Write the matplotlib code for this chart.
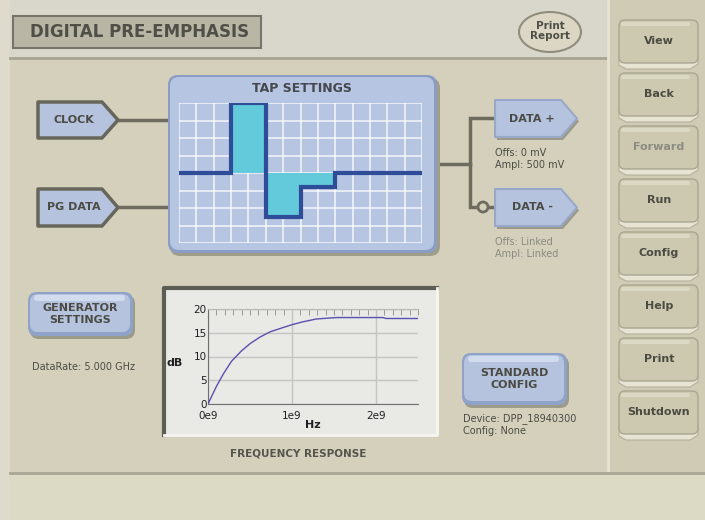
import matplotlib
matplotlib.use("Agg")
import matplotlib.pyplot as plt
from matplotlib.patches import FancyBboxPatch, Polygon, Rectangle, Ellipse, Circle
from matplotlib.ticker import MultipleLocator

# tap settings (step edges in grid columns, tap levels in grid rows)
tap_edges = [0, 3, 5, 7, 9, 14]
tap_levels = [0, 4, -2.5, -0.8, 0]

# frequency response
freq_hz = [0, 0.1e9, 0.185e9, 0.28e9, 0.4e9, 0.5e9, 0.62e9, 0.74e9, 0.86e9,
           1.0e9, 1.13e9, 1.29e9, 1.53e9, 2.0e9, 2.08e9, 2.12e9, 2.5e9]
gain_db = [0, 3.7, 6.4, 9.0, 11.2, 12.7, 14.1, 15.2, 15.9,
           16.7, 17.3, 17.9, 18.2, 18.2, 18.2, 18.0, 18.0]
freq_ticks = [0, 1e9, 2e9]
freq_labels = ["0e9", "1e9", "2e9"]
db_ticks = [0, 5, 10, 15, 20]

nav_buttons = ["View", "Back", "Forward", "Run", "Config", "Help", "Print", "Shutdown"]
nav_disabled = ["Forward"]

W, H = 705, 520
BG = "#d4d0bb"
BLUE = "#b5c3df"
DARK = "#4b4b44"

fig = plt.figure(figsize=(W / 100, H / 100), dpi=100)
bg = fig.add_axes([0, 0, 1, 1])
bg.set_xlim(0, W)
bg.set_ylim(H, 0)
bg.axis("off")


def px_axes(x0, y0, x1, y1):
    return fig.add_axes([x0 / W, 1 - y1 / H, (x1 - x0) / W, (y1 - y0) / H])


def rbox(x0, y0, x1, y1, r, fc, ec="none", lw=0, z=1):
    p = FancyBboxPatch((x0, y0), x1 - x0, y1 - y0,
                       boxstyle=f"round,pad=0,rounding_size={r}",
                       fc=fc, ec=ec, lw=lw, zorder=z)
    bg.add_patch(p)
    return p


def blue_button(x0, y0, x1, y1, label):
    rbox(x0 + 2, y0 + 3, x1 + 2, y1 + 3, 9, "#9c9a88", z=2)
    rbox(x0, y0, x1, y1, 9, "#8fa3c8", z=3)
    rbox(x0 + 2, y0 + 2, x1 - 3, y1 - 4, 8, BLUE, z=4)
    rbox(x0 + 6, y0 + 3, x1 - 8, y0 + 9, 3, "#d2dcef", z=5)
    bg.text((x0 + x1) / 2, (y0 + y1) / 2, label, ha="center", va="center",
            fontsize=8, fontweight="bold", color=DARK, linespacing=1.3, zorder=6)


def arrow_tag(x0, y0, x1, y1, label, outlined):
    tip = 16
    pts = [(x0, y0), (x1 - tip, y0), (x1, (y0 + y1) / 2), (x1 - tip, y1), (x0, y1)]
    if outlined:
        bg.add_patch(Polygon(pts, closed=True, fc=BLUE, ec="#67665a", lw=2.5,
                             joinstyle="round", zorder=4))
    else:
        sh = [(x + 2, y + 3) for x, y in pts]
        bg.add_patch(Polygon(sh, closed=True, fc="#9c9a88", ec="none", zorder=3,
                             joinstyle="round"))
        bg.add_patch(Polygon(pts, closed=True, fc=BLUE, ec="#97a8c9", lw=1.5,
                             joinstyle="round", zorder=4))
    bg.text(x0 + (x1 - tip - x0) / 2 + 4, (y0 + y1) / 2, label, ha="center", va="center",
            fontsize=8, fontweight="bold", color=DARK, zorder=5)


# background regions
bg.add_patch(Rectangle((0, 0), W, H, fc="#dedbcd", zorder=0))
bg.add_patch(Rectangle((10, 60), 598, 412, fc=BG, zorder=0))
bg.add_patch(Rectangle((10, 0), 598, 58, fc="#d9d6cb", zorder=0))
bg.plot([10, 608], [58, 58], color="#a7a493", lw=2, zorder=1)
bg.add_patch(Rectangle((608, 0), 97, 472, fc="#cfcbb5", zorder=0))
bg.plot([608, 608], [0, 472], color="#e6e3d4", lw=2, zorder=1)
bg.add_patch(Rectangle((10, 472), 695, 48, fc="#dcd9c5", zorder=0))
bg.plot([10, 705], [473, 473], color="#a9a693", lw=2, zorder=1)

# title box
bg.add_patch(Rectangle((13, 16), 248, 32, fc="#b9b6a5", ec="#77756a", lw=1.5, zorder=2))
bg.text(30, 32, "DIGITAL PRE-EMPHASIS", ha="left", va="center", fontsize=12,
        fontweight="bold", color="#4f4f47", zorder=3)

# print report button
bg.add_patch(Ellipse((550, 32), 62, 40, fc="#dbd7c4", ec="#908d7c", lw=1.5, zorder=2))
bg.text(550, 31, "Print\nReport", ha="center", va="center", fontsize=7.5,
        fontweight="bold", color="#4e4e46", linespacing=0.95, zorder=3)

# tap settings panel
rbox(170, 78, 440, 256, 10, "#a09d8a", z=2)
rbox(168, 75, 437, 253, 10, "#8c9dc4", z=3)
rbox(170, 77, 434, 250, 9, "#b6c5e1", z=3)
bg.text(302, 88, "TAP SETTINGS", ha="center", va="center", fontsize=9,
        fontweight="bold", color="#44474c", zorder=4)

# connector lines
LINE = "#6e6c5e"
bg.plot([118, 168], [120, 120], color=LINE, lw=2.5, zorder=1)
bg.plot([118, 168], [207, 207], color=LINE, lw=2.5, zorder=1)
bg.plot([437, 470], [164, 164], color=LINE, lw=2.5, zorder=1)
bg.plot([495, 470, 470, 478], [118, 118, 207, 207], color=LINE, lw=2.5, zorder=1,
        solid_joinstyle="miter")
bg.add_patch(Circle((483, 207), 5, fc=BG, ec=LINE, lw=2, zorder=2))
bg.plot([488, 496], [207, 207], color=LINE, lw=2.5, zorder=1)

arrow_tag(38, 102, 118, 138, "CLOCK", True)
arrow_tag(38, 189, 118, 226, "PG DATA", True)
arrow_tag(495, 100, 577, 137, "DATA +", False)
arrow_tag(495, 189, 577, 226, "DATA -", False)

bg.text(495, 153, "Offs: 0 mV", fontsize=7, color=DARK, va="center", zorder=5)
bg.text(495, 165, "Ampl: 500 mV", fontsize=7, color=DARK, va="center", zorder=5)
bg.text(495, 242, "Offs: Linked", fontsize=7, color="#8a8a80", va="center", zorder=5)
bg.text(495, 254, "Ampl: Linked", fontsize=7, color="#8a8a80", va="center", zorder=5)

# generator / standard config buttons
blue_button(28, 292, 133, 336, "GENERATOR\nSETTINGS")
bg.text(84, 367, "DataRate: 5.000 GHz", ha="center", va="center", fontsize=7, color=DARK)
blue_button(462, 353, 567, 405, "STANDARD\nCONFIG")
bg.text(463, 419, "Device: DPP_18940300", fontsize=7, color=DARK, va="center")
bg.text(463, 431, "Config: None", fontsize=7, color=DARK, va="center")

# frequency response frame
bg.add_patch(Rectangle((163, 287), 274, 148, fc="#e9e9e6", ec="none", zorder=2))
bg.plot([164, 164, 437], [435, 288, 288], color="#5d5c55", lw=3, zorder=3)
bg.plot([164, 437, 437], [435, 435, 288], color="#f6f6f2", lw=2, zorder=3)
bg.text(175, 363, "dB", ha="center", va="center", fontsize=8, fontweight="bold",
        color="#202020", zorder=4)
bg.text(313, 425, "Hz", ha="center", va="center", fontsize=8, fontweight="bold",
        color="#202020", zorder=4)
bg.text(298, 453, "FREQUENCY RESPONSE", ha="center", va="center", fontsize=7.5,
        fontweight="bold", color="#55554d")

# nav buttons
for i, name in enumerate(nav_buttons):
    top = 20 + 53 * i
    bg.add_patch(Polygon([(619, top + 36), (698, top + 36), (698, top + 44),
                          (690, top + 49), (626, top + 49), (619, top + 45)],
                         closed=True, fc="#e7e4d4", ec="#b3b09c", lw=0.8, zorder=2))
    rbox(619, top, 698, top + 43, 6, "#cdc9b1", ec="#a9a691", lw=1, z=3)
    rbox(621, top + 2, 690, top + 6, 2, "#dbd8c4", z=3)
    bg.text(659, top + 21, name, ha="center", va="center", fontsize=8,
            fontweight="bold", zorder=4,
            color="#8c8b82" if name in nav_disabled else "#4b4b42")

# tap settings plot
tax = px_axes(179, 103, 422, 243)
tax.set_facecolor("none")
tax.set_xlim(0, 14)
tax.set_ylim(-4, 4)
tax.set_xticks(range(15))
tax.set_yticks(range(-4, 5))
tax.tick_params(length=0, labelbottom=False, labelleft=False)
tax.grid(True, color="white", lw=1.1, alpha=0.85)
for s in tax.spines.values():
    s.set_visible(False)
tax.stairs(tap_levels, tap_edges, baseline=0, fill=True, color="#62cadb", zorder=3)
tax.stairs(tap_levels, tap_edges, baseline=None, color="#2f4c98", lw=3, zorder=4)

# frequency response plot
fax = px_axes(208, 309, 418, 404)
fax.set_facecolor("#e9e9e6")
fax.plot(freq_hz, gain_db, color="#5a50b0", lw=1, zorder=3)
fax.set_xlim(0, 2.5e9)
fax.set_ylim(0, 20)
fax.set_xticks(freq_ticks)
fax.set_xticklabels(freq_labels)
fax.set_yticks(db_ticks)
fax.xaxis.set_minor_locator(MultipleLocator(1e8))
fax.tick_params(which="major", length=0, labelsize=7.5, labelcolor="#202020")
fax.tick_params(axis="y", which="major", pad=1)
fax.tick_params(axis="x", which="major", pad=5)
fax.tick_params(axis="x", which="minor", bottom=False, top=True, direction="in",
                length=4, color="#8c8c8c")
fax.grid(True, which="major", color="#c4c4c2", lw=1)
fax.spines["left"].set_color("#707070")
fax.spines["bottom"].set_color("#707070")
fax.spines["top"].set_color("#b8b8b4")
fax.spines["right"].set_visible(False)

fig.savefig("out.png", dpi=100)
